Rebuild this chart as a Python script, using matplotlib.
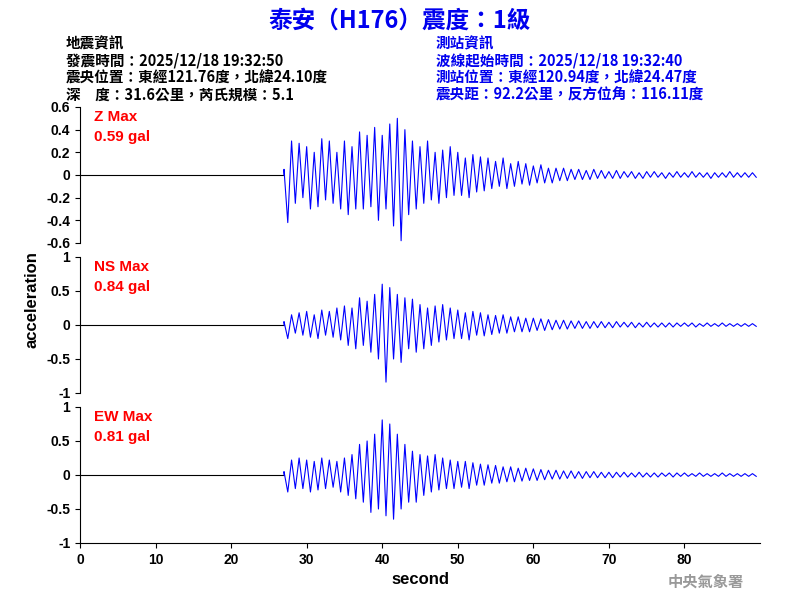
import matplotlib
matplotlib.use("Agg")
import matplotlib.pyplot as plt
import numpy as np

cjk = ['Noto Sans CJK TC', 'DejaVu Sans']
lat = ['Liberation Sans', 'DejaVu Sans']

title = "泰安（H176）震度：1級"
left_info = ["地震資訊", "發震時間：2025/12/18 19:32:50", "震央位置：東經121.76度，北緯24.10度", "深　度：31.6公里，芮氏規模：5.1"]
right_info = ["測站資訊", "波線起始時間：2025/12/18 19:32:40", "測站位置：東經120.94度，北緯24.47度", "震央距：92.2公里，反方位角：116.11度"]
comp_names = ["Z Max", "NS Max", "EW Max"]
comp_max = ["0.59 gal", "0.84 gal", "0.81 gal"]
ylims = [0.6, 1, 1]
yticks = [[-0.6, -0.4, -0.2, 0, 0.2, 0.4, 0.6], [-1, -0.5, 0, 0.5, 1], [-1, -0.5, 0, 0.5, 1]]
onset = 27.0
dt = 0.5

z_amp = [0.05,-0.42,0.3,-0.25,0.28,-0.2,
 0.25,-0.3,0.2,-0.28,0.32,-0.22,0.3,-0.25,0.2,-0.3,
 0.3,-0.35,0.25,-0.3,0.38,-0.3,0.35,-0.28,0.42,-0.4,
 0.35,-0.3,0.45,-0.45,0.5,-0.58,0.4,-0.35,0.3,-0.3,
 0.25,-0.25,0.3,-0.22,0.2,-0.25,0.22,-0.2,0.25,-0.18,
 0.2,-0.18,0.15,-0.2,0.18,-0.15,0.16,-0.14,0.15,-0.12,
 0.12,-0.1,0.15,-0.12,0.1,-0.1,0.12,-0.08,0.1,-0.09,
 0.08,-0.07,0.09,-0.07,0.06,-0.07,0.06,-0.05,0.06,-0.05,
 0.05,-0.04,0.05,-0.04,0.04,-0.04,0.05,-0.03,0.04,-0.03,
 0.03,-0.03,0.04,-0.03,0.03,-0.02,0.03,-0.03,0.02,-0.03,0.03,-0.02,0.03,-0.02,0.02,-0.03,0.02,-0.02,0.03,-0.02,
 0.02,-0.02,0.03,-0.02,0.02,-0.02,0.02,-0.03,0.02,-0.02,0.02,-0.02,0.03,-0.02,0.02,-0.02,0.02,-0.02,0.02,-0.02]

ns_amp = [0.05,-0.2,0.15,-0.12,0.18,-0.15,
 0.2,-0.18,0.15,-0.2,0.22,-0.15,0.2,-0.18,0.25,-0.22,
 0.28,-0.3,0.25,-0.35,0.4,-0.3,0.35,-0.4,0.45,-0.5,
 0.6,-0.84,0.55,-0.5,0.45,-0.55,0.4,-0.35,0.38,-0.4,
 0.3,-0.35,0.25,-0.3,0.28,-0.25,0.3,-0.22,0.25,-0.2,
 0.22,-0.2,0.18,-0.22,0.2,-0.15,0.18,-0.16,0.15,-0.14,
 0.14,-0.12,0.15,-0.12,0.12,-0.1,0.12,-0.1,0.1,-0.1,
 0.1,-0.08,0.09,-0.08,0.08,-0.07,0.07,-0.06,0.07,-0.06,
 0.06,-0.05,0.06,-0.05,0.05,-0.05,0.05,-0.04,0.05,-0.04,
 0.04,-0.04,0.05,-0.03,0.04,-0.03,0.04,-0.04,0.03,-0.03,0.04,-0.03,0.03,-0.03,0.03,-0.03,0.03,-0.03,0.03,-0.02,
 0.03,-0.02,0.03,-0.03,0.02,-0.02,0.03,-0.02,0.02,-0.02,0.03,-0.02,0.02,-0.02,0.02,-0.02,0.02,-0.02,0.02,-0.02]

ew_amp = [0.05,-0.25,0.22,-0.2,0.25,-0.2,
 0.22,-0.25,0.2,-0.22,0.25,-0.2,0.22,-0.18,0.2,-0.25,
 0.25,-0.3,0.3,-0.35,0.45,-0.4,0.5,-0.55,0.6,-0.5,
 0.81,-0.6,0.75,-0.65,0.6,-0.5,0.45,-0.4,0.35,-0.4,
 0.3,-0.3,0.28,-0.25,0.3,-0.22,0.25,-0.2,0.22,-0.2,
 0.2,-0.18,0.2,-0.2,0.18,-0.15,0.16,-0.15,0.15,-0.12,
 0.14,-0.12,0.12,-0.1,0.12,-0.1,0.1,-0.09,0.1,-0.08,
 0.09,-0.08,0.08,-0.07,0.07,-0.06,0.07,-0.06,0.06,-0.05,
 0.06,-0.05,0.05,-0.05,0.05,-0.04,0.05,-0.04,0.04,-0.04,
 0.04,-0.04,0.04,-0.03,0.04,-0.03,0.03,-0.03,0.04,-0.03,0.03,-0.03,0.03,-0.03,0.03,-0.02,0.03,-0.03,0.03,-0.02,
 0.03,-0.02,0.02,-0.02,0.03,-0.02,0.02,-0.02,0.02,-0.02,0.03,-0.02,0.02,-0.02,0.02,-0.02,0.02,-0.02,0.02,-0.02]

fig = plt.figure(figsize=(8, 6), dpi=100)
fig.text(0.5, 0.965, title, ha='center', va='center', color='#0000ee', fontsize=17, fontweight='bold', family=cjk)
for i, s in enumerate(left_info):
    fig.text(0.082, 0.928 - i*0.0285, s, fontsize=10.5, family=cjk, va='center', color='black', fontweight='bold')
for i, s in enumerate(right_info):
    fig.text(0.545, 0.928 - i*0.0285, s, fontsize=10.5, family=cjk, va='center', color='#0000ee', fontweight='bold')
fig.text(0.93, 0.03, "中央氣象署", fontsize=11, family=cjk, color='#999999', ha='right', va='center', fontweight='bold')

bottoms = [0.595, 0.345, 0.095]
for k, amp in enumerate([z_amp, ns_amp, ew_amp]):
    ax = fig.add_axes([0.1, bottoms[k], 0.85, 0.2267])
    t = onset + dt*np.arange(len(amp))
    ax.plot([0, onset], [0, 0], color='black', lw=0.8)
    ax.plot(np.concatenate([[onset], t]), np.concatenate([[0], amp]), color='#0000ff', lw=0.8)
    ax.set_xlim(0, 90)
    ax.set_ylim(-ylims[k], ylims[k])
    ax.set_yticks(yticks[k])
    ax.set_yticklabels([f"{v:g}" for v in yticks[k]], family=lat, fontsize=10, fontweight='bold')
    for sp in ['top', 'right']:
        ax.spines[sp].set_visible(False)
    if k < 2:
        ax.spines['bottom'].set_visible(False)
        ax.set_xticks([])
    else:
        ax.set_xticks(range(0, 90, 10))
        ax.set_xticklabels([str(v) for v in range(0, 90, 10)], family=lat, fontsize=10, fontweight='bold')
        ax.set_xlabel("second", family=lat, fontsize=12, fontweight='bold')
    ax.text(0.02, 0.93, comp_names[k], transform=ax.transAxes, color='red', fontsize=11, fontweight='bold', family=lat, va='center')
    ax.text(0.02, 0.78, comp_max[k], transform=ax.transAxes, color='red', fontsize=11, fontweight='bold', family=lat, va='center')
fig.text(0.04, 0.5, "acceleration", rotation=90, ha='center', va='center', family=lat, fontsize=12, fontweight='bold')
fig.savefig("out.png", dpi=100)
